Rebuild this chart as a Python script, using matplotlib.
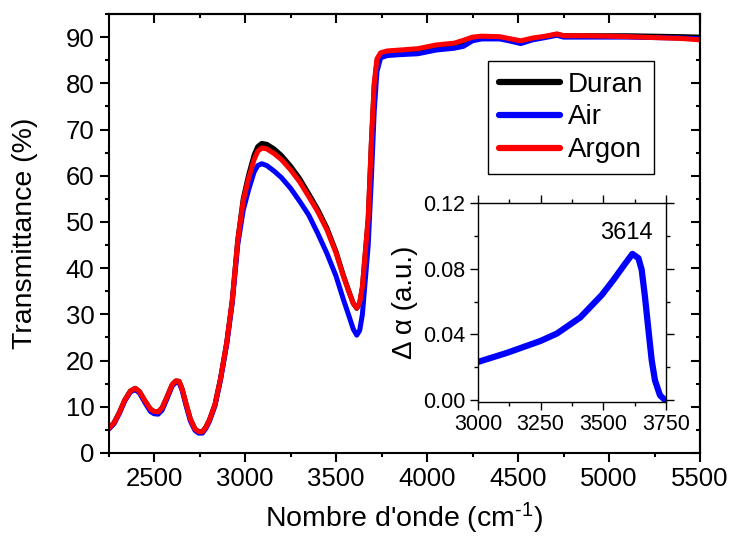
import numpy as np
import matplotlib
matplotlib.use("Agg")
import matplotlib.pyplot as plt
from matplotlib.ticker import MultipleLocator

plt.rcParams['font.family'] = ['Liberation Sans', 'DejaVu Sans']
plt.rcParams['mathtext.fontset'] = 'custom'
plt.rcParams['mathtext.rm'] = 'Liberation Sans'
plt.rcParams['mathtext.it'] = 'Liberation Sans'

# wavenumber (cm-1)
wn = [2250, 2280, 2310, 2340, 2370, 2397, 2420, 2450, 2480, 2500, 2523, 2545,
      2570, 2600, 2620, 2638, 2655, 2675, 2700, 2725, 2745, 2766, 2785, 2805,
      2835, 2865, 2900, 2930, 2960, 2990, 3020, 3050, 3070, 3092, 3120, 3160,
      3200, 3250, 3300, 3350, 3400, 3450, 3500, 3540, 3570, 3595, 3614, 3630,
      3645, 3660, 3677, 3695, 3710, 3725, 3745, 3780, 3850, 3950, 4050, 4150,
      4200, 4250, 4300, 4400, 4450, 4515, 4580, 4650, 4714, 4750, 4850, 5000,
      5100, 5250, 5400, 5500]

duran = [5.3, 6.5, 8.8, 11.5, 13.4, 14.0, 13.3, 11.3, 9.5, 9.0, 8.9, 9.8,
         12.0, 14.8, 15.6, 15.5, 13.8, 10.8, 7.3, 5.2, 4.6, 4.6, 5.6, 7.2,
         10.5, 16.0, 24.0, 33.0, 46.0, 55.0, 60.2, 64.5, 66.3, 67.0, 66.8, 65.8,
         64.4, 62.1, 59.4, 56.1, 52.7, 48.7, 43.6, 38.5, 35.1, 32.4, 31.3, 32.4,
         35.8, 42.8, 50.6, 67.5, 79.5, 84.8, 86.0, 86.6, 86.8, 87.1, 88.0, 88.4,
         88.9, 89.7, 90.0, 89.9, 89.5, 89.0, 89.6, 90.1, 90.6, 90.3, 90.3, 90.3,
         90.3, 90.2, 90.1, 90.0]

air = [5.1, 6.3, 8.6, 11.3, 13.2, 13.7, 13.0, 10.9, 9.0, 8.5, 8.4, 9.3,
       11.6, 14.5, 15.3, 15.2, 13.5, 10.4, 6.9, 4.9, 4.3, 4.3, 5.3, 6.9,
       10.2, 15.7, 23.6, 32.5, 45.0, 52.5, 57.0, 60.8, 62.2, 62.6, 62.2, 61.0,
       59.6, 57.3, 54.5, 51.5, 47.5, 43.2, 38.3, 33.3, 29.8, 26.8, 25.5, 26.5,
       30.0, 37.0, 45.0, 60.0, 74.0, 82.5, 85.5, 86.0, 86.2, 86.4, 87.2, 87.6,
       88.0, 89.2, 89.6, 89.6, 89.2, 88.6, 89.4, 89.9, 90.4, 90.0, 90.0, 90.0,
       90.0, 89.9, 89.8, 89.6]

argon = [5.3, 6.5, 8.8, 11.5, 13.4, 14.0, 13.3, 11.3, 9.5, 9.0, 8.9, 9.8,
         12.0, 14.8, 15.6, 15.5, 13.8, 10.8, 7.3, 5.2, 4.6, 4.6, 5.6, 7.2,
         10.5, 16.0, 24.0, 33.0, 46.0, 54.5, 59.5, 63.5, 65.3, 66.0, 65.8, 64.8,
         63.5, 61.3, 58.7, 55.5, 52.2, 48.3, 43.3, 38.3, 35.0, 32.3, 31.4, 32.5,
         36.0, 43.0, 51.0, 68.0, 80.0, 85.3, 86.6, 87.0, 87.2, 87.5, 88.3, 88.7,
         89.3, 90.0, 90.2, 90.1, 89.7, 89.2, 89.8, 90.2, 90.7, 90.3, 90.3, 90.2,
         90.1, 89.9, 89.7, 89.4]

# inset: difference in absorption
wn_in = [3000, 3115, 3248, 3315, 3408, 3494, 3540, 3593, 3616, 3640, 3653,
         3666, 3680, 3693, 3706, 3726, 3746]
dalpha = [0.0232, 0.0287, 0.0359, 0.0405, 0.0503, 0.0640, 0.0731, 0.0843,
          0.0890, 0.0864, 0.0793, 0.0630, 0.0426, 0.0242, 0.0120, 0.0029, 0.0]

fig = plt.figure(figsize=(7.30, 5.38), dpi=100)
ax = fig.add_axes([108.5/730, 1-453/538, (700-108.5)/730, (453-14)/538])

ax.plot(wn, duran, color='black', lw=3.6, label='Duran', solid_capstyle='round')
ax.plot(wn, air, color='#0000ff', lw=3.6, label='Air', solid_capstyle='round')
ax.plot(wn, argon, color='#ff0000', lw=3.6, label='Argon', solid_capstyle='round')

ax.set_xlim(2250, 5500)
ax.set_ylim(0, 95)
ax.xaxis.set_major_locator(MultipleLocator(500))
ax.xaxis.set_minor_locator(MultipleLocator(250))
ax.yaxis.set_major_locator(MultipleLocator(10))
ax.yaxis.set_minor_locator(MultipleLocator(5))
ax.tick_params(which='major', direction='out', length=6.5, width=1.5, labelsize=18.5)
ax.tick_params(which='minor', direction='out', length=3.2, width=1.5)
for s in ax.spines.values():
    s.set_linewidth(1.5)

# mirrored ticks on top/right pointing inward
axr = ax.secondary_yaxis('right')
axr.yaxis.set_major_locator(MultipleLocator(10))
axr.yaxis.set_minor_locator(MultipleLocator(5))
axr.tick_params(which='major', direction='in', length=6.5, width=1.5, labelright=False)
axr.tick_params(which='minor', direction='in', length=3.2, width=1.5)
axr.spines['right'].set_linewidth(1.5)
axt = ax.secondary_xaxis('top')
axt.xaxis.set_major_locator(MultipleLocator(500))
axt.xaxis.set_minor_locator(MultipleLocator(250))
axt.tick_params(which='major', direction='in', length=6.5, width=1.5, labeltop=False)
axt.tick_params(which='minor', direction='in', length=3.2, width=1.5)
axt.spines['top'].set_linewidth(1.5)

ax.set_xlabel(r"Nombre d'onde (cm$^{\text{-1}}$)", fontsize=20.5)
ax.set_ylabel("Transmittance (%)", fontsize=20.5)
ax.xaxis.set_label_coords(0.5, -0.108)
ax.yaxis.set_label_coords(-0.119, 0.5)

leg = ax.legend(loc='upper left', bbox_to_anchor=(488/730, 1-61/538),
                bbox_transform=fig.transFigure, borderaxespad=0, fontsize=20,
                handlelength=2.2, handletextpad=0.3, labelspacing=0.25,
                borderpad=0.38, fancybox=False, framealpha=1)
leg.get_frame().set_edgecolor('black')
leg.get_frame().set_linewidth(1.0)
for h in leg.get_lines():
    h.set_linewidth(4.5)

# inset
axi = fig.add_axes([478/730, 1-402/538, (666-478)/730, (402-203)/538])
axi.plot(wn_in, dalpha, color='#0000ff', lw=4.5, solid_capstyle='round')
axi.set_xlim(3000, 3750)
axi.set_ylim(-0.0012, 0.12)
axi.xaxis.set_major_locator(MultipleLocator(250))
axi.xaxis.set_minor_locator(MultipleLocator(125))
axi.yaxis.set_major_locator(MultipleLocator(0.04))
axi.yaxis.set_minor_locator(MultipleLocator(0.02))
axi.yaxis.set_major_formatter(matplotlib.ticker.FormatStrFormatter('%.2f'))
axi.tick_params(which='major', direction='out', length=5.5, width=1.0, labelsize=15.5)
axi.tick_params(which='minor', direction='out', length=3, width=1.0)
axi.tick_params(which='both', right=True, top=True)
for s in axi.spines.values():
    s.set_linewidth(1.0)
axi.set_ylabel("Δ α (a.u.)", fontsize=20)
axi.yaxis.set_label_coords(-0.32, 0.5)
axi.text(3590, 0.1015, "3614", fontsize=17, ha='center', va='center')

fig.savefig("out.png", dpi=100)
